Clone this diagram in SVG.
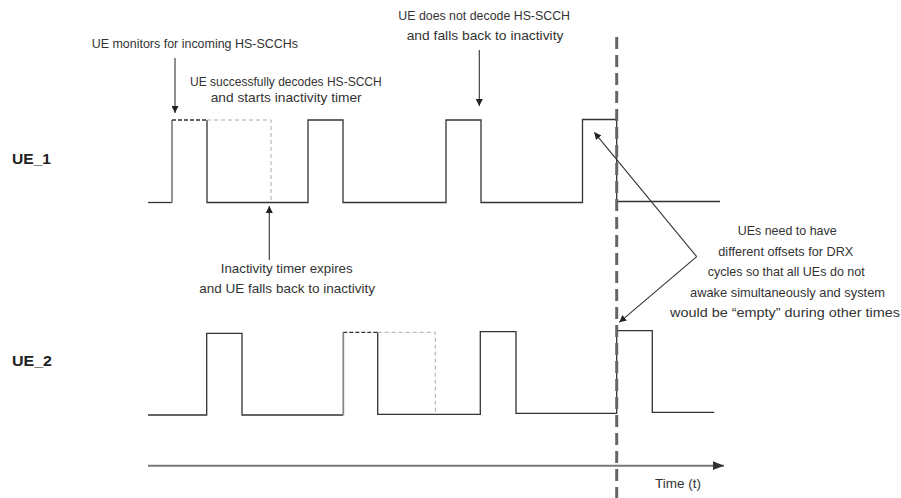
<svg xmlns="http://www.w3.org/2000/svg" width="901" height="498" viewBox="0 0 901 498">
<style>
text{font-family:"Liberation Sans",Arial,sans-serif;font-size:13.5px;fill:#333}
.lbl{font-size:15px;font-weight:bold;fill:#222}
.wave{fill:none;stroke:#333;stroke-width:1.3}
.rise{fill:none;stroke:#888;stroke-width:1.8}
.topdash{fill:none;stroke:#333;stroke-width:1.3;stroke-dasharray:4 2}
.timer{fill:none;stroke:#aaa;stroke-width:1;stroke-dasharray:4 3}
.arr{fill:none;stroke:#333;stroke-width:1.1}
.axis{fill:none;stroke:#777;stroke-width:2}
.sep{fill:none;stroke:#666;stroke-width:3;stroke-dasharray:12 6}
</style>
<defs>
<marker id="ah" viewBox="0 0 10 10" refX="10" refY="5" markerWidth="7" markerHeight="7" markerUnits="userSpaceOnUse" orient="auto">
<path d="M0,0 L10,5 L0,10 z" fill="#222"/>
</marker>
<marker id="ahAxis" viewBox="0 0 10 10" refX="10" refY="5" markerWidth="11" markerHeight="11" markerUnits="userSpaceOnUse" orient="auto">
<path d="M0,1 L10,5 L0,9 z" fill="#333"/>
</marker>
</defs>

<g id="label-ue1"><text class="lbl" x="12" y="164" textLength="39" lengthAdjust="spacingAndGlyphs">UE_1</text></g>
<g id="label-ue2"><text class="lbl" x="12" y="366" textLength="40" lengthAdjust="spacingAndGlyphs">UE_2</text></g>

<g id="wave-ue1">
<path class="wave" d="M148,202.5 H172"/>
<path class="rise" d="M172,202.5 V120"/>
<path class="topdash" d="M172,120 H207"/>
<path class="wave" d="M207,120 V202.5 H308 V120 H343 V202.5 H446 V120 H481 V202.5 H582.5 V119.5 H616.7 V201.5 H720"/>
<path class="timer" d="M207,120 H271 V202.5"/>
</g>

<g id="wave-ue2">
<path class="wave" d="M148,415 H206.7 V333.3 H242 V415 H343.3"/>
<path class="rise" d="M343.3,415 V332.3"/>
<path class="topdash" d="M343.3,332.3 H377.7"/>
<path class="wave" d="M377.7,332.3 V414.3 H480.3 V331.7 H516 V413.3 H616.7 V330.7 H652.3 V412.3 H714.3"/>
<path class="timer" d="M377.7,332.3 H435.3 V414.3"/>
</g>

<g id="time-axis">
<path class="axis" d="M148,465.7 H724" marker-end="url(#ahAxis)"/>
<text x="655" y="487.5" textLength="46" lengthAdjust="spacingAndGlyphs">Time (t)</text>
</g>

<g id="separator"><path class="sep" d="M616.7,37 V498"/></g>

<g id="connectors">
<path class="arr" d="M175,58 V113" marker-end="url(#ah)"/>
<path class="arr" d="M479.3,50 V106" marker-end="url(#ah)"/>
<path class="arr" d="M269.3,260 V206" marker-end="url(#ah)"/>
<path class="arr" d="M696.7,256.7 L594.3,132.3" marker-end="url(#ah)"/>
<path class="arr" d="M696.7,256.7 L619.3,322.3" marker-end="url(#ah)"/>
</g>

<g id="note-monitor"><text x="91.7" y="48" textLength="206.3" lengthAdjust="spacingAndGlyphs">UE monitors for incoming  HS-SCCHs</text></g>
<g id="note-decode">
<text x="190" y="86" textLength="191.7" lengthAdjust="spacingAndGlyphs">UE successfully decodes HS-SCCH</text>
<text x="210.7" y="102" textLength="151" lengthAdjust="spacingAndGlyphs">and starts inactivity timer</text>
</g>
<g id="note-nodecode">
<text x="398.3" y="19.5" textLength="171.7" lengthAdjust="spacingAndGlyphs">UE does not decode  HS-SCCH</text>
<text x="406.7" y="39.5" textLength="156.7" lengthAdjust="spacingAndGlyphs">and falls back to inactivity</text>
</g>
<g id="note-expire">
<text x="220.7" y="273" textLength="132" lengthAdjust="spacingAndGlyphs">Inactivity timer expires</text>
<text x="199.3" y="293" textLength="175.7" lengthAdjust="spacingAndGlyphs">and UE falls back to inactivity</text>
</g>
<g id="note-offsets">
<text x="737.7" y="235" textLength="99" lengthAdjust="spacingAndGlyphs">UEs need to have</text>
<text x="718.3" y="255.5" textLength="135" lengthAdjust="spacingAndGlyphs">different offsets for DRX</text>
<text x="707.7" y="276" textLength="157" lengthAdjust="spacingAndGlyphs">cycles so that all UEs do not</text>
<text x="690" y="296.5" textLength="195" lengthAdjust="spacingAndGlyphs">awake simultaneously and system</text>
<text x="670" y="317" textLength="230" lengthAdjust="spacingAndGlyphs">would be “empty” during other times</text>
</g>
</svg>
